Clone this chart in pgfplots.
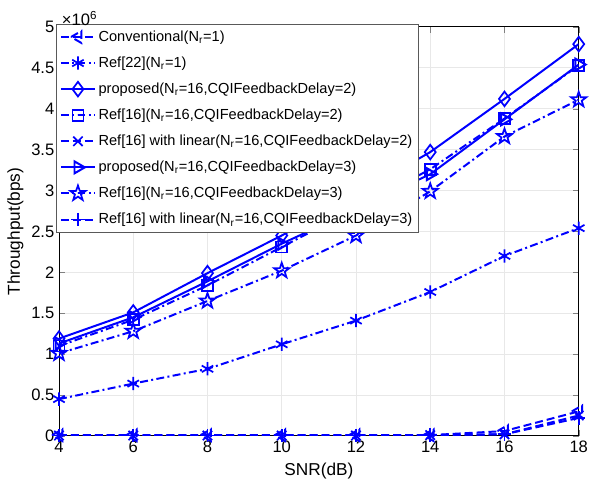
\documentclass[border=0pt]{standalone}
\usepackage{pgfplots}
\pgfplotsset{compat=1.18}
\usepackage{fontspec}
\setmainfont{Liberation Sans}
\pgfdeclareplotmark{pentagram}{%
  \pgfpathmoveto{\pgfpointpolar{90}{\pgfplotmarksize}}%
  \pgfpathlineto{\pgfpointpolar{126}{0.4\pgfplotmarksize}}%
  \pgfpathlineto{\pgfpointpolar{162}{\pgfplotmarksize}}%
  \pgfpathlineto{\pgfpointpolar{198}{0.4\pgfplotmarksize}}%
  \pgfpathlineto{\pgfpointpolar{234}{\pgfplotmarksize}}%
  \pgfpathlineto{\pgfpointpolar{270}{0.4\pgfplotmarksize}}%
  \pgfpathlineto{\pgfpointpolar{306}{\pgfplotmarksize}}%
  \pgfpathlineto{\pgfpointpolar{342}{0.4\pgfplotmarksize}}%
  \pgfpathlineto{\pgfpointpolar{18}{\pgfplotmarksize}}%
  \pgfpathlineto{\pgfpointpolar{54}{0.4\pgfplotmarksize}}%
  \pgfpathclose\pgfusepathqstroke}
\begin{document}
\begin{tikzpicture}
\tikzset{dd/.style={dash pattern=on 6pt off 2.5pt on 1.5pt off 2.5pt}, ds/.style={dash pattern=on 6pt off 3pt}}
\begin{axis}[scale only axis, width=392pt, height=308.5pt,
xmin=4, xmax=18, ymin=0, ymax=5, xtick={4,6,...,18}, ytick={0,0.5,...,5},
yticklabels={0,0.5,1,1.5,2,2.5,3,3.5,4,4.5,5},
xlabel={SNR(dB)}, ylabel={Throughput(bps)},
/pgf/number format/assume math mode=true,
tick label style={font=\fontsize{12.5}{14}\selectfont}, label style={font=\fontsize{13}{15}\selectfont},
xlabel style={yshift=-1pt}, ylabel style={yshift=-1pt},
grid=major, grid style={gray!18, line width=0.7pt}, axis line style={line width=0.7pt}, tick align=inside,
legend cell align=left, legend style={at={(-0.005,1.006)}, anchor=north west, font=\fontsize{11}{12.5}\selectfont, row sep=6.2pt, draw=gray!70!black, inner sep=2.5pt,
  /tikz/every even column/.append style={column sep=2pt}},
legend image code/.code={\draw[mark repeat=2,mark phase=2] plot coordinates {(0cm,0cm) (0.45cm,0cm) (0.9cm,0cm)};},
every axis plot/.append style={blue, line width=1.5pt, mark options={solid, line width=1.3pt}}]
% Conventional(Nr=1)
\addplot[ds, mark=triangle, mark options={rotate=90}, mark size=5.2pt] coordinates {(4,0.01) (6,0.01) (8,0.01) (10,0.01) (12,0.01) (14,0.01) (16,0.06) (18,0.30)};
\addlegendentry{Conventional(N\textsubscript{r}=1)}
% Ref[22](Nr=1)
\addplot[dd, mark=asterisk, mark size=5pt] coordinates {(4,0.45) (6,0.64) (8,0.82) (10,1.12) (12,1.41) (14,1.76) (16,2.20) (18,2.54)};
\addlegendentry{Ref[22](N\textsubscript{r}=1)}
% proposed delay 2
\addplot[solid, mark=diamond, mark size=5.5pt] coordinates {(4,1.19) (6,1.51) (8,1.99) (10,2.45) (12,2.95) (14,3.47) (16,4.12) (18,4.79)};
\addlegendentry{proposed(N\textsubscript{r}=16,CQIFeedbackDelay=2)}
% Ref[16] delay 2
\addplot[dd, mark=square, mark size=4.2pt] coordinates {(4,1.10) (6,1.42) (8,1.84) (10,2.31) (12,2.78) (14,3.26) (16,3.88) (18,4.53)};
\addlegendentry{Ref[16](N\textsubscript{r}=16,CQIFeedbackDelay=2)}
% Ref[16] with linear delay 2
\addplot[ds, mark=x, mark size=5pt] coordinates {(4,0.005) (6,0.005) (8,0.005) (10,0.005) (12,0.005) (14,0.01) (16,0.02) (18,0.25)};
\addlegendentry{Ref[16] with linear(N\textsubscript{r}=16,CQIFeedbackDelay=2)}
% proposed delay 3
\addplot[solid, mark=triangle, mark options={rotate=-90}, mark size=5.2pt] coordinates {(4,1.13) (6,1.45) (8,1.89) (10,2.35) (12,2.77) (14,3.20) (16,3.87) (18,4.54)};
\addlegendentry{proposed(N\textsubscript{r}=16,CQIFeedbackDelay=3)}
% Ref[16] delay 3
\addplot[dd, mark=pentagram, mark size=6pt] coordinates {(4,1.01) (6,1.28) (8,1.65) (10,2.02) (12,2.45) (14,2.99) (16,3.66) (18,4.11)};
\addlegendentry{Ref[16](N\textsubscript{r}=16,CQIFeedbackDelay=3)}
% Ref[16] with linear delay 3
\addplot[ds, mark=+, mark size=5pt] coordinates {(4,0.005) (6,0.005) (8,0.005) (10,0.005) (12,0.005) (14,0.01) (16,0.02) (18,0.22)};
\addlegendentry{Ref[16] with linear(N\textsubscript{r}=16,CQIFeedbackDelay=3)}
\end{axis}
\node[anchor=south west, inner sep=1pt, font=\fontsize{12.5}{14}\selectfont] at (1pt,308.5pt) {×10\textsuperscript{6}};
\pgfresetboundingbox
\path (-44.5pt,-41.5pt) rectangle (400.5pt,328.8pt);
\end{tikzpicture}
\end{document}
